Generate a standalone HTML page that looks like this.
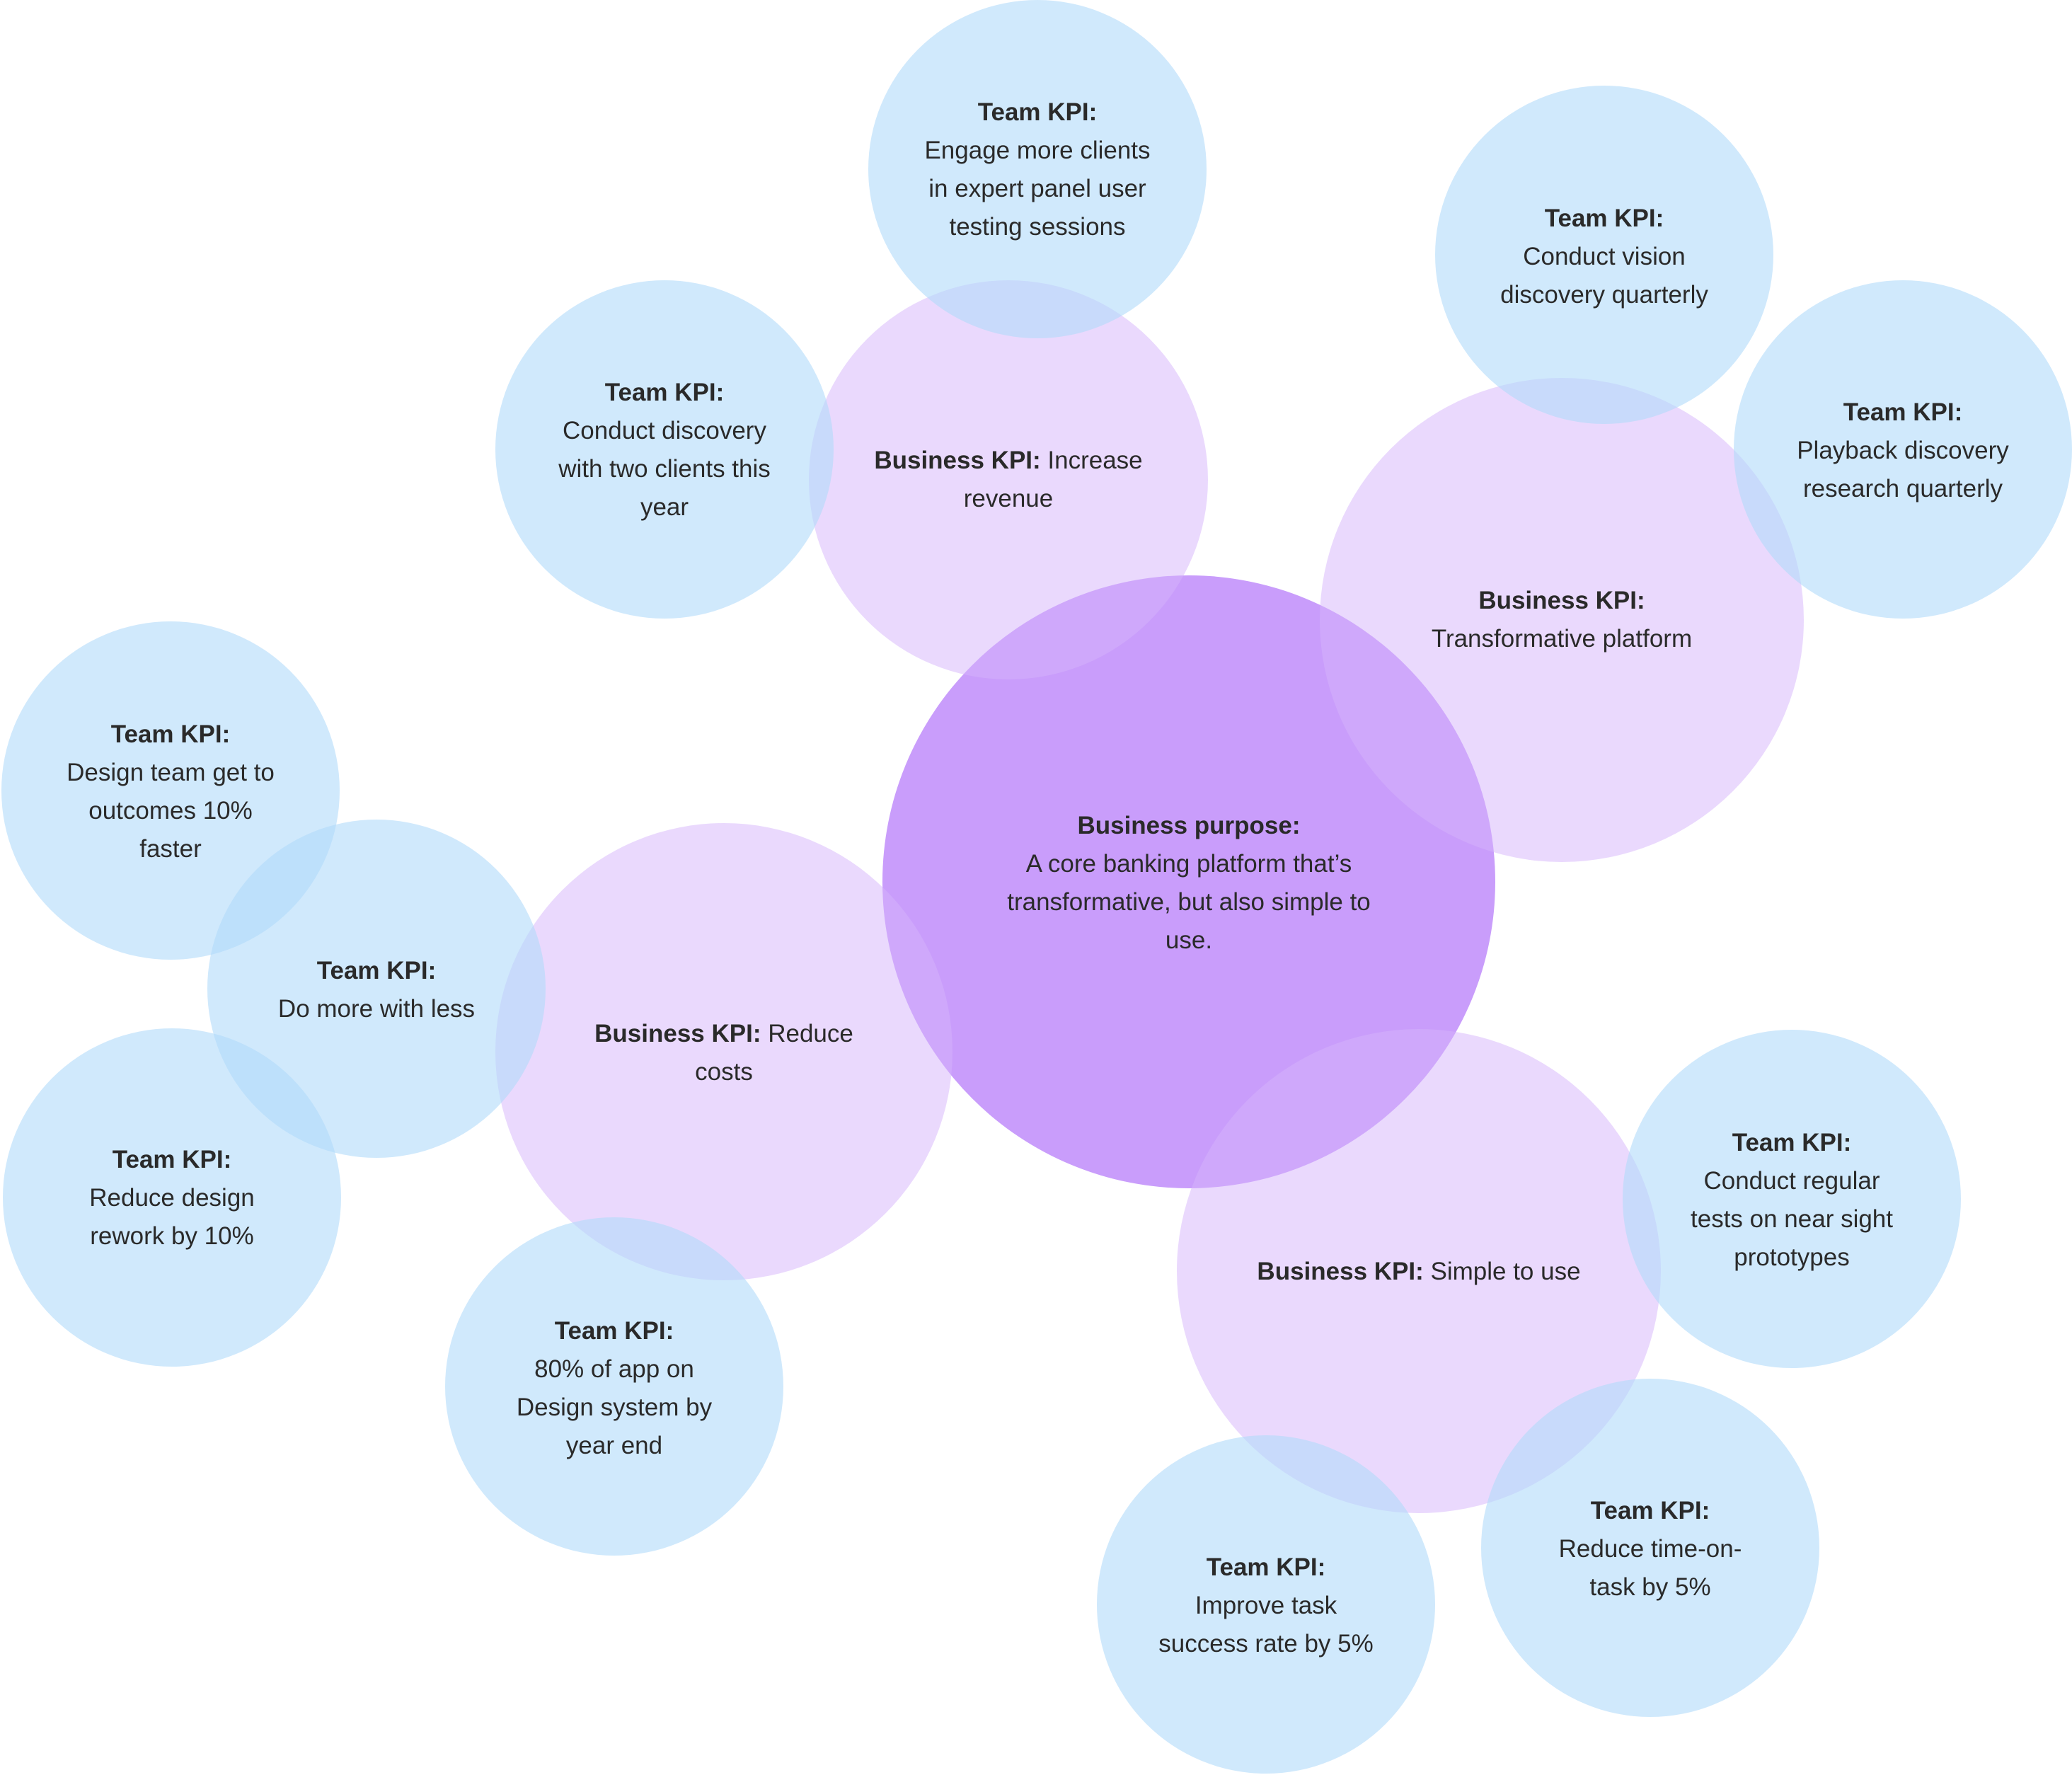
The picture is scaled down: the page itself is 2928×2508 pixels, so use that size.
<!DOCTYPE html>
<html><head><meta charset="utf-8"><style>
html,body{margin:0;padding:0;background:#fff;}
svg{display:block;}
text{font-family:"Liberation Sans",sans-serif;font-size:35px;fill:#2a2a2a;text-anchor:middle;}
.b{font-weight:bold;}
</style></head><body>
<svg width="2928" height="2508" viewBox="0 0 2928 2508" xmlns="http://www.w3.org/2000/svg">
<circle cx="1680" cy="1246" r="433" fill="#c99dfb"/>
<g fill="rgba(213,179,251,0.5)">
<circle cx="1425" cy="678" r="282"/>
<circle cx="2207" cy="876" r="342"/>
<circle cx="1023" cy="1486" r="323"/>
<circle cx="2005" cy="1796" r="342"/>
</g>
<g fill="rgba(177,218,250,0.6)">
<circle cx="1466" cy="239" r="239"/>
<circle cx="939" cy="635" r="239"/>
<circle cx="2267" cy="360" r="239"/>
<circle cx="2689" cy="635" r="239"/>
<circle cx="241" cy="1117" r="239"/>
<circle cx="532" cy="1397" r="239"/>
<circle cx="243" cy="1692" r="239"/>
<circle cx="868" cy="1959" r="239"/>
<circle cx="2532" cy="1694" r="239"/>
<circle cx="2332" cy="2187" r="239"/>
<circle cx="1789" cy="2267" r="239"/>
</g>
<text x="1680" y="1178" class="b">Business purpose:</text>
<text x="1680" y="1232">A core banking platform that’s</text>
<text x="1680" y="1286">transformative, but also simple to</text>
<text x="1680" y="1340">use.</text>
<text x="1425" y="662"><tspan class="b">Business KPI:</tspan> Increase</text>
<text x="1425" y="716">revenue</text>
<text x="2207" y="860" class="b">Business KPI:</text>
<text x="2207" y="914">Transformative platform</text>
<text x="1023" y="1472"><tspan class="b">Business KPI:</tspan> Reduce</text>
<text x="1023" y="1526">costs</text>
<text x="2005" y="1808"><tspan class="b">Business KPI:</tspan> Simple to use</text>
<text x="1466" y="170" class="b">Team KPI:</text>
<text x="1466" y="224">Engage more clients</text>
<text x="1466" y="278">in expert panel user</text>
<text x="1466" y="332">testing sessions</text>
<text x="939" y="566" class="b">Team KPI:</text>
<text x="939" y="620">Conduct discovery</text>
<text x="939" y="674">with two clients this</text>
<text x="939" y="728">year</text>
<text x="2267" y="320" class="b">Team KPI:</text>
<text x="2267" y="374">Conduct vision</text>
<text x="2267" y="428">discovery quarterly</text>
<text x="2689" y="594" class="b">Team KPI:</text>
<text x="2689" y="648">Playback discovery</text>
<text x="2689" y="702">research quarterly</text>
<text x="241" y="1049" class="b">Team KPI:</text>
<text x="241" y="1103">Design team get to</text>
<text x="241" y="1157">outcomes 10%</text>
<text x="241" y="1211">faster</text>
<text x="532" y="1383" class="b">Team KPI:</text>
<text x="532" y="1437">Do more with less</text>
<text x="243" y="1650" class="b">Team KPI:</text>
<text x="243" y="1704">Reduce design</text>
<text x="243" y="1758">rework by 10%</text>
<text x="868" y="1892" class="b">Team KPI:</text>
<text x="868" y="1946">80% of app on</text>
<text x="868" y="2000">Design system by</text>
<text x="868" y="2054">year end</text>
<text x="2532" y="1626" class="b">Team KPI:</text>
<text x="2532" y="1680">Conduct regular</text>
<text x="2532" y="1734">tests on near sight</text>
<text x="2532" y="1788">prototypes</text>
<text x="2332" y="2146" class="b">Team KPI:</text>
<text x="2332" y="2200">Reduce time-on-</text>
<text x="2332" y="2254">task by 5%</text>
<text x="1789" y="2226" class="b">Team KPI:</text>
<text x="1789" y="2280">Improve task</text>
<text x="1789" y="2334">success rate by 5%</text>
</svg>
</body></html>
